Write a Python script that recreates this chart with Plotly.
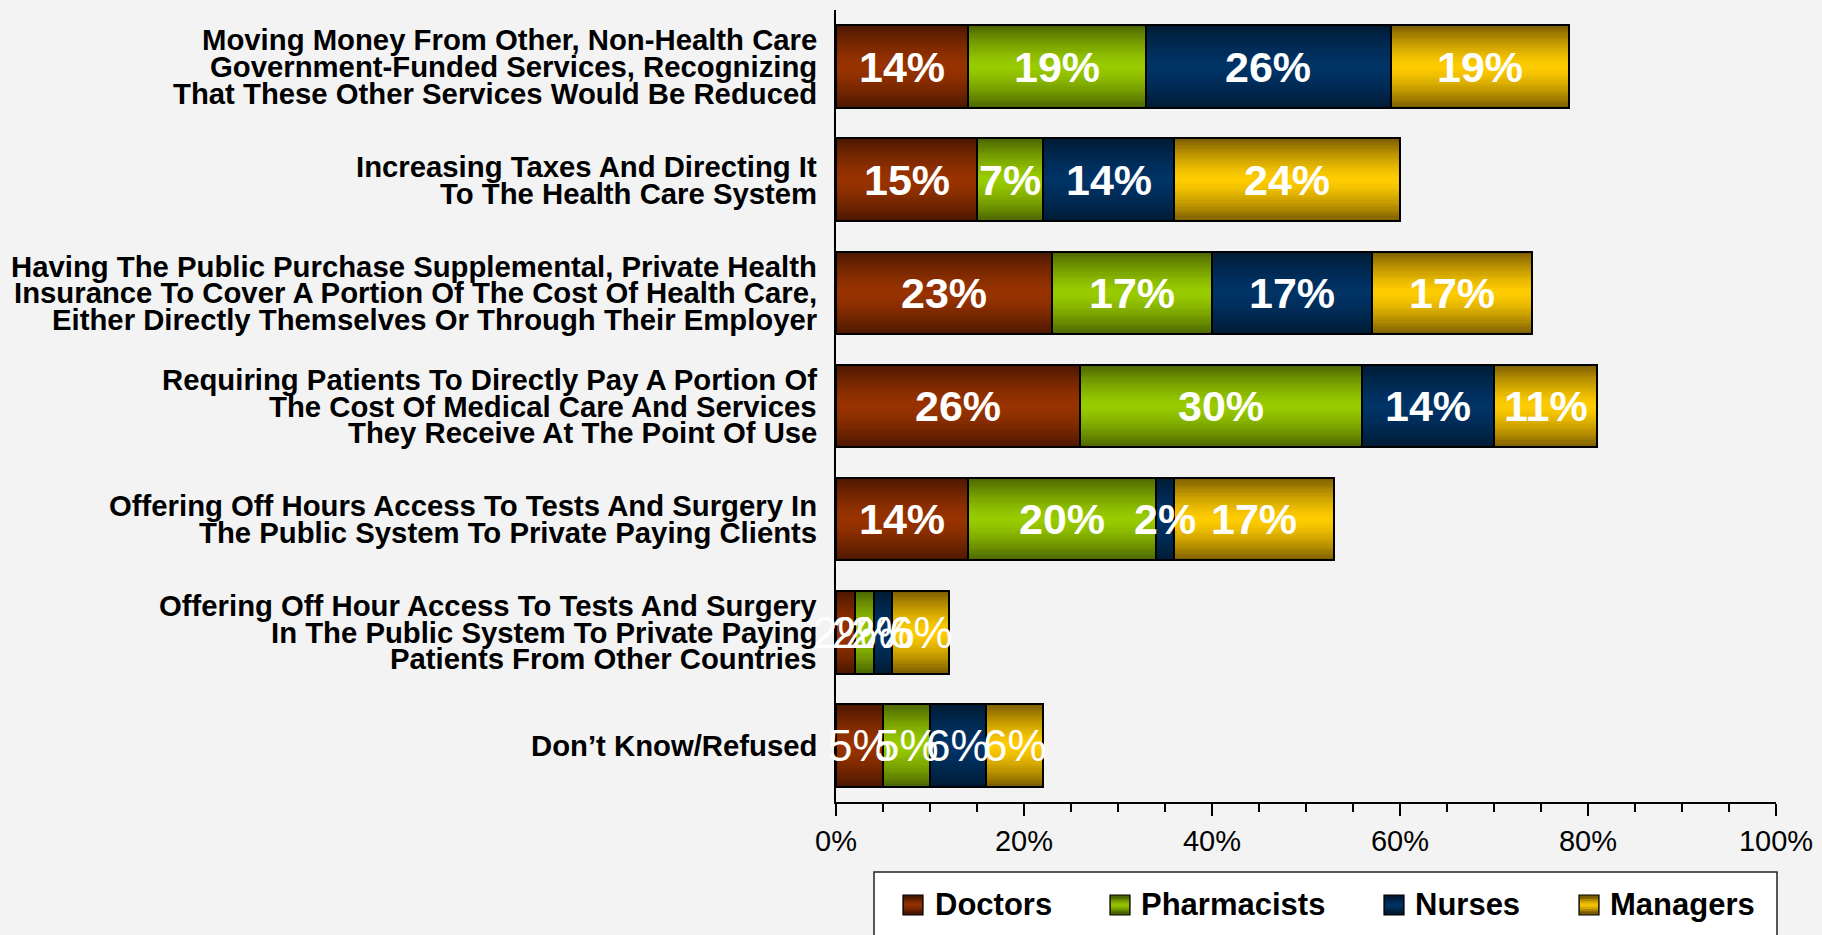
import plotly.graph_objects as go

# Survey options (one per row, top to bottom); "\n" marks the label line breaks
categories = [
    "Moving Money From Other, Non-Health Care\nGovernment-Funded Services, Recognizing\nThat These Other Services Would Be Reduced",
    "Increasing Taxes And Directing It\nTo The Health Care System",
    "Having The Public Purchase Supplemental, Private Health\nInsurance To Cover A Portion Of The Cost Of Health Care,\nEither Directly Themselves Or Through Their Employer",
    "Requiring Patients To Directly Pay A Portion Of\nThe Cost Of Medical Care And Services\nThey Receive At The Point Of Use",
    "Offering Off Hours Access To Tests And Surgery In\nThe Public System To Private Paying Clients",
    "Offering Off Hour Access To Tests And Surgery\nIn The Public System To Private Paying\nPatients From Other Countries",
    "Don\u2019t Know/Refused",
]

doctors = [14, 15, 23, 26, 14, 2, 5]
pharmacists = [19, 7, 17, 30, 20, 2, 5]
nurses = [26, 14, 17, 14, 2, 2, 6]
managers = [19, 24, 17, 11, 17, 6, 6]

series_names = ["Doctors", "Pharmacists", "Nurses", "Managers"]
x_ticks = [0, 20, 40, 60, 80, 100]
x_tick_labels = ["0%", "20%", "40%", "60%", "80%", "100%"]

# (edge colour, centre colour) for the shaded bar fill
palette = {
    "Doctors": ("#4a1700", "#993300"),
    "Pharmacists": ("#4a6400", "#99cc00"),
    "Nurses": ("#001a33", "#003366"),
    "Managers": ("#7a5c00", "#ffcc00"),
}

FONT = "Liberation Sans, Arial, sans-serif"
W, H = 1822, 935
ML, MR, MT, MB = 836, 46, 10, 133
PW, PH = W - ML - MR, H - MT - MB
BAR_W = 0.73
N_LAYERS = 18


def hex_rgb(h):
    h = h.lstrip("#")
    return tuple(int(h[i:i + 2], 16) for i in (0, 2, 4))


def mix(c_center, c_edge, t):
    a, b = hex_rgb(c_center), hex_rgb(c_edge)
    return "rgb(%d,%d,%d)" % tuple(round(a[i] + (b[i] - a[i]) * t) for i in range(3))


def px_x(px):
    return (px - ML) / PW


def px_y(py):
    return (H - MB - py) / PH


values = [doctors, pharmacists, nurses, managers]
bases = []
run = [0] * len(categories)
for vals in values:
    bases.append(list(run))
    run = [r + v for r, v in zip(run, vals)]

fig = go.Figure()

# shaded fill: stacked segments drawn as nested bands, darker towards the edges
for name, vals, base in zip(series_names, values, bases):
    edge, center = palette[name]
    for k in range(N_LAYERS):
        t = 1 - (k + 0.5) / N_LAYERS
        fig.add_trace(go.Bar(
            orientation="h", y=categories, x=vals, base=base,
            width=BAR_W * (1 - k / N_LAYERS),
            marker=dict(color=mix(center, edge, t ** 1.4), line=dict(width=0)),
            showlegend=False, hoverinfo="skip",
        ))

# segment outlines
for name, vals, base in zip(series_names, values, bases):
    fig.add_trace(go.Bar(
        orientation="h", y=categories, x=vals, base=base, width=BAR_W,
        marker=dict(color="rgba(0,0,0,0)", line=dict(color="black", width=2)),
        showlegend=False, hoverinfo="skip",
    ))

annotations = []

# value labels centred on each segment (the two short rows use a plain face)
for name, vals, base in zip(series_names, values, bases):
    for i, (cat, b, v) in enumerate(zip(categories, base, vals)):
        bold = i < 5
        annotations.append(dict(
            xref="x", yref="y", x=b + v / 2, y=cat,
            xanchor="center", yanchor="middle", showarrow=False,
            text=f"<b>{v}%</b>" if bold else f"{v}%",
            font=dict(family=FONT, size=43 if bold else 44, color="white"),
        ))

# row labels, one annotation per line for tight line spacing
LINE_H = 26.7
for cat in categories:
    lines = cat.split("\n")
    n = len(lines)
    for j, line in enumerate(lines):
        annotations.append(dict(
            xref="paper", x=0, xanchor="right", xshift=-17,
            yref="y", y=cat, yanchor="middle", yshift=((n - 1) / 2 - j) * LINE_H,
            text=f"<b>{line}</b>", showarrow=False,
            font=dict(family=FONT, size=29.3, color="black"),
        ))

# legend box
shapes = [dict(
    type="rect", xref="paper", yref="paper",
    x0=px_x(874), x1=px_x(1777), y0=px_y(950), y1=px_y(872),
    fillcolor="white", line=dict(color="#222222", width=1.5), layer="above",
)]
legend_swatch_x = [903, 1110, 1384, 1579]
legend_text_x = [933, 1139, 1413, 1608]
LEG_Y = 905
for name, sx, tx in zip(series_names, legend_swatch_x, legend_text_x):
    edge, center = palette[name]
    shapes.append(dict(
        type="rect", xref="paper", yref="paper",
        x0=px_x(sx), x1=px_x(sx + 20), y0=px_y(LEG_Y + 10), y1=px_y(LEG_Y - 10),
        fillcolor=edge, line=dict(color="black", width=1.2), layer="above",
    ))
    for frac in [0.7, 0.45, 0.2]:
        half = 9 * frac
        shapes.append(dict(
            type="rect", xref="paper", yref="paper",
            x0=px_x(sx + 1), x1=px_x(sx + 19), y0=px_y(LEG_Y + half), y1=px_y(LEG_Y - half),
            fillcolor=mix(center, edge, frac ** 1.4), line=dict(width=0), layer="above",
        ))
    annotations.append(dict(
        xref="paper", yref="paper", x=px_x(tx), y=px_y(LEG_Y),
        xanchor="left", yanchor="middle", showarrow=False,
        text=f"<b>{name}</b>", font=dict(family=FONT, size=31, color="black"),
    ))

fig.update_layout(
    width=W, height=H, autosize=False,
    margin=dict(l=ML, r=MR, t=MT, b=MB, pad=0),
    paper_bgcolor="#f3f3f3", plot_bgcolor="#f3f3f3",
    barmode="overlay", bargap=0,
    showlegend=False,
    annotations=annotations, shapes=shapes,
    xaxis=dict(
        range=[0, 100], tickmode="array", tickvals=x_ticks, ticktext=x_tick_labels,
        ticks="outside", ticklen=12, tickwidth=2, tickcolor="black",
        minor=dict(dtick=5, tick0=0, ticks="outside", ticklen=8, tickwidth=1.5, tickcolor="black", showgrid=False),
        showline=True, linecolor="black", linewidth=1.5,
        showgrid=False, zeroline=False,
        tickfont=dict(family=FONT, size=29, color="black"),
        fixedrange=True,
    ),
    yaxis=dict(
        type="category", categoryorder="array", categoryarray=categories,
        range=[len(categories) - 0.5, -0.5],
        showticklabels=False, ticks="",
        showline=True, linecolor="black", linewidth=1.5,
        showgrid=False, zeroline=False, fixedrange=True,
    ),
)

fig.write_html("out.html")
